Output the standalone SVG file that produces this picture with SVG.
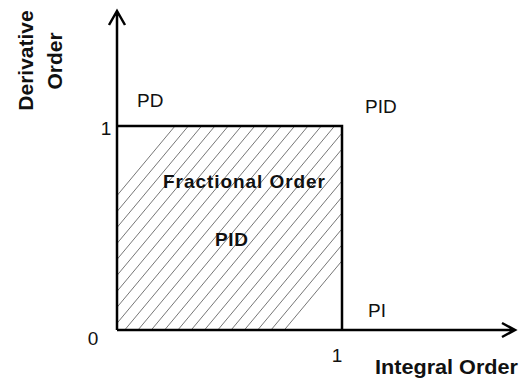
<svg xmlns="http://www.w3.org/2000/svg" width="525" height="380" viewBox="0 0 525 380">
<style>
.ax{stroke:#000;stroke-width:2.5;fill:none}
.hatch{stroke:#666;stroke-width:0.9;fill:none}
.t{font-family:"Liberation Sans",Arial,sans-serif;font-size:19px;fill:#111}
.b{font-weight:bold}
</style>
<defs>
<clipPath id="sq"><rect x="118" y="127" width="223" height="202"/></clipPath>
</defs>
<rect width="525" height="380" fill="#fff"/>
<g id="region">
<g class="hatch" clip-path="url(#sq)">
<path d="M5 330L175 126M18.3 330L188.3 126M31.6 330L201.6 126M44.9 330L214.9 126M58.2 330L228.2 126M71.5 330L241.5 126M84.8 330L254.8 126M98.1 330L268.1 126M111.4 330L281.4 126M124.7 330L294.7 126M138 330L308 126M151.3 330L321.3 126M164.6 330L334.6 126M177.9 330L347.9 126M191.2 330L361.2 126M204.5 330L374.5 126M217.8 330L387.8 126M231.1 330L401.1 126M244.4 330L414.4 126M257.7 330L427.7 126M271 330L441 126M284.3 330L454.3 126"/>
</g>
<path class="ax" d="M117 126H342V330"/>
<text class="t b" x="163" y="188" textLength="162" lengthAdjust="spacing" style="font-size:19px">Fractional Order</text>
<text class="t b" x="215" y="246" textLength="33" lengthAdjust="spacing">PID</text>
</g>
<g id="connectors">
<path class="ax" d="M117 330V11M109 25L117 11L125 25"/>
<path class="ax" d="M117 330H515M502 323L515 330L502 337"/>
</g>
<g id="labels">
<text class="t b" transform="translate(33,60.5) rotate(-90)" text-anchor="middle" style="font-size:21px">Derivative</text>
<text class="t b" transform="translate(62,61) rotate(-90)" text-anchor="middle" style="font-size:21px">Order</text>
<text class="t b" x="375" y="374" textLength="143" lengthAdjust="spacingAndGlyphs" style="font-size:20.5px">Integral Order</text>
<text class="t" x="137" y="107">PD</text>
<text class="t" x="365" y="113">PID</text>
<text class="t" x="368" y="317">PI</text>
<text class="t" x="337" y="362" text-anchor="middle">1</text>
<text class="t" x="106" y="135" text-anchor="middle">1</text>
<text class="t" x="93" y="345" text-anchor="middle">0</text>
</g>
</svg>
